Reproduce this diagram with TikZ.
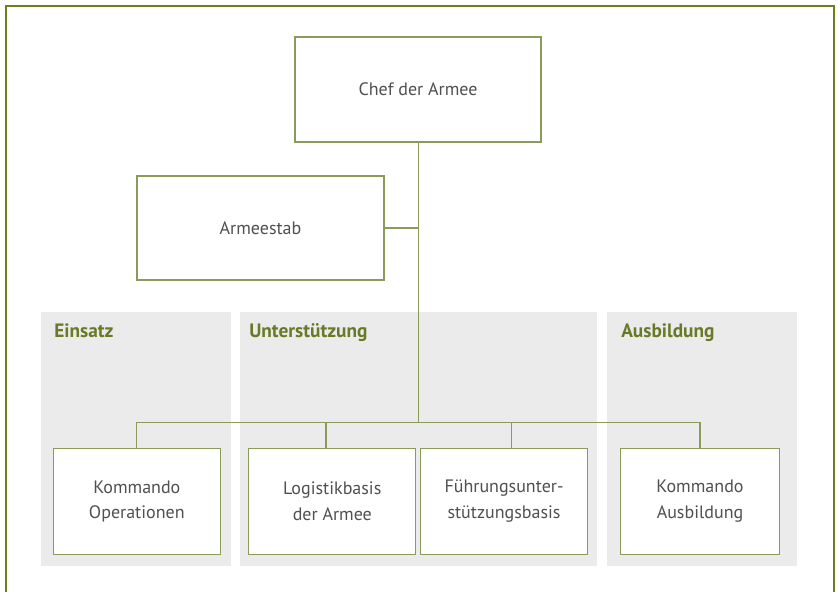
\documentclass[tikz,border=0pt]{standalone}
\usepackage{fontspec}
\setmainfont{PT Sans}
\usepackage{tikz}

\definecolor{olivedark}{RGB}{107,128,30}
\definecolor{oliveline}{RGB}{138,154,90}
\definecolor{olivetext}{RGB}{104,122,38}
\definecolor{panelgray}{RGB}{235,235,235}
\definecolor{boxtext}{RGB}{80,80,80}

\tikzset{
  unit/.style={draw=oliveline, line width=1pt, fill=white, text=boxtext, align=center,
    inner sep=0pt, font=\fontsize{13.5}{19}\selectfont},
  area/.style={anchor=base west, inner sep=0pt, text=olivetext,
    font=\fontsize{14.5}{17}\selectfont\bfseries},
  link/.style={draw=oliveline, line width=1pt}
}

\begin{document}
\begin{tikzpicture}[x=0.75pt,y=0.75pt,yscale=-1,xscale=1]
\useasboundingbox (0,0) rectangle (837,592);

%Outer frame
\draw [olivedark, line width=1.5pt] (5.5,592) -- (5.5,6.5) -- (833.8,6.5) -- (833.8,592);

%Gray panels
\fill [panelgray] (41,312) rectangle (231,566);
\fill [panelgray] (240,312) rectangle (597,566);
\fill [panelgray] (607,312) rectangle (797,566);

% Text Node
\node [area] (einsatz) at (54,337) {Einsatz};
% Text Node
\node [area] (unterst) at (249,337) {Unterstützung};
% Text Node
\node [area] (ausbild) at (621,337) {Ausbildung};

%Boxes
\node [unit, minimum width=184.5pt, minimum height=78.75pt] (chef) at (418,89.5) {Chef der Armee};
\node [unit, minimum width=185.25pt, minimum height=78pt] (stab) at (260.5,228) {Armeestab};
\node [unit, minimum width=125.25pt, minimum height=79.5pt] (kops) at (136.8,501.2) {Kommando\\Operationen};
\node [unit, minimum width=125.25pt, minimum height=79.5pt] (lba) at (332.3,501.2) {Logistikbasis\\der Armee};
\node [unit, minimum width=125.25pt, minimum height=79.5pt] (fub) at (504,501.2) {Führungsunter-\\stützungsbasis};
\node [unit, minimum width=119.25pt, minimum height=79.5pt] (kausb) at (700,501.2) {Kommando\\Ausbildung};

%Lines
\coordinate (trunk) at (418.7,422.3);
\coordinate (busL) at (kops.north |- trunk);
\coordinate (busR) at (kausb.north |- trunk);
\coordinate (lbatop) at ([xshift=-4.7pt]lba.north);
\coordinate (fubtop) at ([xshift=5.5pt]fub.north);
\draw [link] (chef.south -| trunk) -- (trunk);
\draw [link] (stab.east) -- (stab.east -| trunk);
\draw [link] (busL) -- (busR);
\draw [link] (kops.north) -- (busL);
\draw [link] (kausb.north) -- (busR);
\draw [link] (lbatop) -- (lbatop |- trunk);
\draw [link] (fubtop) -- (fubtop |- trunk);

\end{tikzpicture}
\end{document}
